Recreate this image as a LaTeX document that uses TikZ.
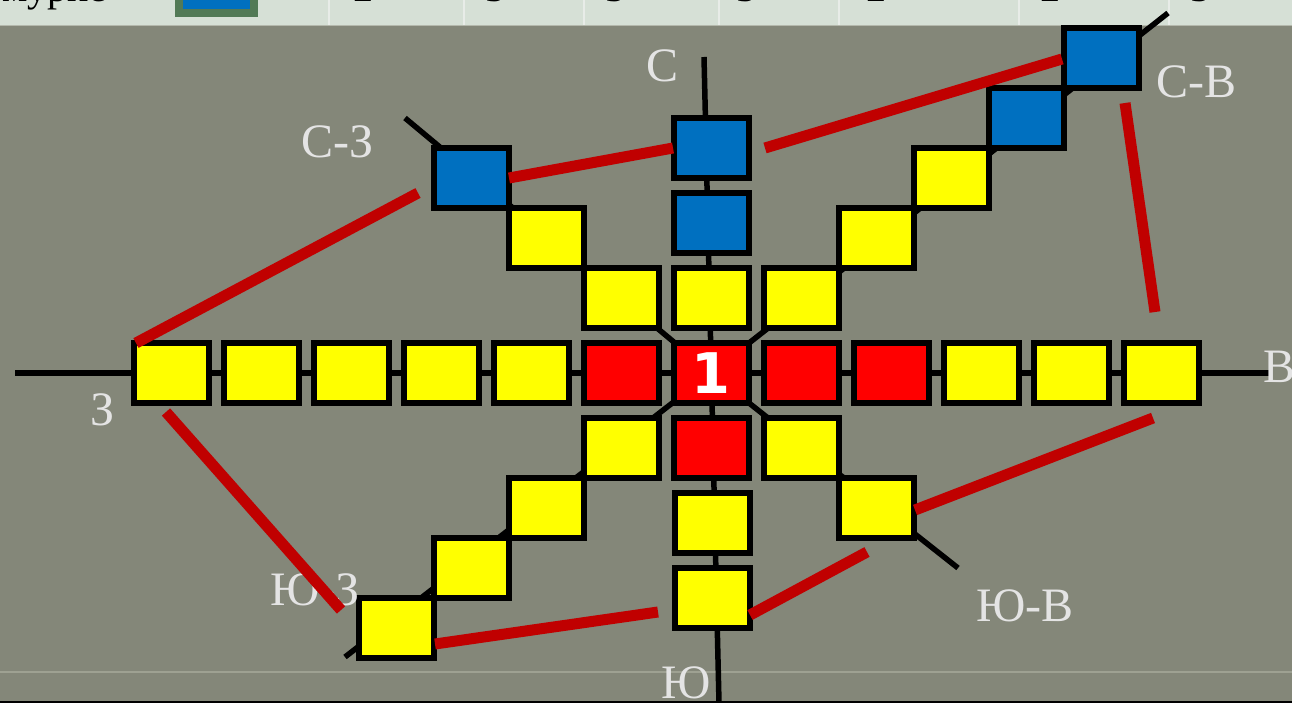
\documentclass[tikz,border=0pt]{standalone}
\usepackage{fontspec}
\setmainfont{Liberation Serif}
\newfontfamily\numfont{DejaVu Sans}
\definecolor{bgc}{RGB}{132,135,121}
\definecolor{stripc}{RGB}{214,224,214}
\definecolor{sepc}{RGB}{232,236,232}
\definecolor{legg}{RGB}{82,122,86}
\definecolor{boxy}{RGB}{255,255,0}
\definecolor{boxr}{RGB}{255,0,0}
\definecolor{boxb}{RGB}{0,112,192}
\definecolor{redl}{RGB}{192,0,0}
\definecolor{lblc}{RGB}{228,228,228}
\tikzset{
  cell/.style={rectangle, draw=black, line width=6pt, minimum width=75pt, minimum height=60pt, inner sep=0pt},
  ycell/.style={cell, fill=boxy},
  rcell/.style={cell, fill=boxr},
  bcell/.style={cell, fill=boxb},
  axis/.style={draw=black, line width=5.5pt},
  redline/.style={draw=redl, line width=11pt},
  lbl/.style={text=lblc, font=\fontsize{48}{48}\selectfont, inner sep=0pt},
  striptext/.style={font=\fontsize{40}{40}\selectfont, text=black, inner sep=0pt, anchor=base}
}
\begin{document}
\begin{tikzpicture}[x=1pt,y=-1pt]
\useasboundingbox (0,0) rectangle (1292,703);
\clip (0,0) rectangle (1292,703);
% background
\fill[bgc] (0,0) rectangle (1292,703);
\draw[line width=1.5pt, color={rgb,255:red,158;green,161;blue,146}] (0,672) -- (1292,672);
\draw[line width=2.5pt, black] (0,702) -- (1292,702);
% top strip (cut-off table)
\fill[stripc] (0,0) rectangle (1292,25);
\draw[line width=1.5pt, color={rgb,255:red,180;green,184;blue,172}] (0,25.5) -- (1292,25.5);
\foreach \sx in {329,464,584,719,839,1019,1169}
  \draw[sepc, line width=2pt] (\sx,0) -- (\sx,25);
\fill[legg] (175,-5) rectangle (258,17);
\fill[boxb] (183,-5) rectangle (250,9);
\node[striptext, anchor=base west] (stxt) at (2,1.5) {мурис};
\node[striptext] (s1) at (363,1.5) {2};
\node[striptext] (s2) at (495,1.5) {3};
\node[striptext] (s3) at (615,1.5) {3};
\node[striptext] (s4) at (746,1.5) {3};
\node[striptext] (s5) at (876,1.5) {2};
\node[striptext] (s6) at (1050,1.5) {2};
\node[striptext] (s7) at (1200,1.5) {3};
% axis coordinates
\coordinate (O) at (711,373);
\coordinate (hw) at (15,373);
\coordinate (he) at (1272,373);
\coordinate (vn) at (704,57);
\coordinate (vs) at (719,703);
\coordinate (nw) at (405,118);
\coordinate (ne) at (1168,13);
\coordinate (sw) at (345,657);
\coordinate (se) at (958,568);
\draw[axis] (hw) -- (he);
\draw[axis] (vn) -- (vs);
\draw[axis] (O) -- (nw);
\draw[axis] (O) -- (ne);
\draw[axis] (O) -- (sw);
\draw[axis] (O) -- (se);
% main row
\node[ycell] (w6) at (171,373) {};
\node[ycell] (w5) at (261,373) {};
\node[ycell] (w4) at (351,373) {};
\node[ycell] (w3) at (441,373) {};
\node[ycell] (w2) at (531,373) {};
\node[rcell] (w1) at (621,373) {};
\node[rcell, text=white, font=\numfont\bfseries\fontsize{56}{56}\selectfont] (c) at (711,373) {1};
\node[rcell] (e1) at (801,373) {};
\node[rcell] (e2) at (891,373) {};
\node[ycell] (e3) at (981,373) {};
\node[ycell] (e4) at (1071,373) {};
\node[ycell] (e5) at (1161,373) {};
% column
\node[ycell] (n1) at (711,298) {};
\node[bcell] (n2) at (711,223) {};
\node[bcell] (n3) at (711,148) {};
\node[rcell] (s1c) at (711,448) {};
\node[ycell] (s2c) at (712,523) {};
\node[ycell] (s3c) at (712,598) {};
% NW diagonal
\node[ycell] (nw1) at (621,298) {};
\node[ycell] (nw2) at (546,238) {};
\node[bcell] (nw3) at (471,178) {};
% NE diagonal
\node[ycell] (ne1) at (801,298) {};
\node[ycell] (ne2) at (876,238) {};
\node[ycell] (ne3) at (951,178) {};
\node[bcell] (ne4) at (1026,118) {};
\node[bcell] (ne5) at (1101,58) {};
% SW diagonal
\node[ycell] (sw1) at (621,448) {};
\node[ycell] (sw2) at (546,508) {};
\node[ycell] (sw3) at (471,568) {};
\node[ycell] (sw4) at (396,628) {};
% SE diagonal
\node[ycell] (se1) at (801,448) {};
\node[ycell] (se2) at (876,508) {};
% labels
\node[lbl] (lN) at (662,66) {С};
\node[lbl] (lNW) at (338,142) {С-З};
\node[lbl] (lNE) at (1196,82) {С-В};
\node[lbl] (lW) at (103,410) {З};
\node[lbl, anchor=west] (lE) at (1263,367) {В};
\node[lbl] (lSW) at (315,590) {Ю-З};
\node[lbl] (lSE) at (1025,606) {Ю-В};
\node[lbl] (lS) at (686,683) {Ю};
% red connectors
\coordinate (r1a) at (136,343);
\coordinate (r1b) at (418,193);
\coordinate (r2a) at (509,178);
\coordinate (r2b) at (673,148);
\coordinate (r3a) at (765,148);
\coordinate (r3b) at (1062,59);
\coordinate (r4a) at (1125,103);
\coordinate (r4b) at (1155,312);
\coordinate (r5a) at (1153,418);
\coordinate (r5b) at (915,510);
\coordinate (r6a) at (867,552);
\coordinate (r6b) at (750,615);
\coordinate (r7a) at (658,612);
\coordinate (r7b) at (435,644);
\coordinate (r8a) at (341,610);
\coordinate (r8b) at (166,412);
\draw[redline] (r1a) -- (r1b);
\draw[redline] (r2a) -- (r2b);
\draw[redline] (r3a) -- (r3b);
\draw[redline] (r4a) -- (r4b);
\draw[redline] (r5a) -- (r5b);
\draw[redline] (r6a) -- (r6b);
\draw[redline] (r7a) -- (r7b);
\draw[redline] (r8a) -- (r8b);
\end{tikzpicture}
\end{document}
